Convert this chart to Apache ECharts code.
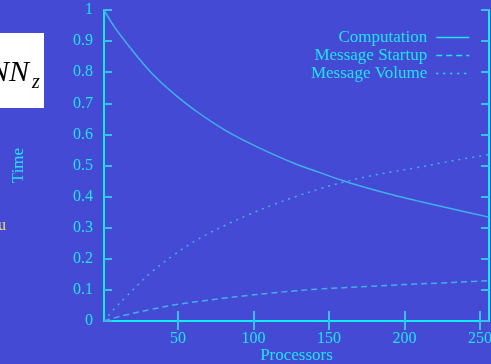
<!DOCTYPE html>
<html><head><meta charset="utf-8">
<script src="https://cdn.jsdelivr.net/npm/echarts@6/dist/echarts.min.js"></script>
<style>html,body{margin:0;padding:0;background:#454ad4;}#c{width:491px;height:364px;}</style>
</head><body><div id="c"></div>
<script>
const procs = [1, 8, 16, 32, 48, 64, 80, 96, 112, 128, 144, 160, 176, 192, 208, 224, 240, 256];
const computation = [1.0, 0.945, 0.893, 0.80, 0.728, 0.668, 0.617, 0.575, 0.538, 0.505, 0.477, 0.45, 0.427, 0.406, 0.387, 0.369, 0.351, 0.334];
const msgStartup = [0.0, 0.01, 0.02, 0.037, 0.052, 0.063, 0.073, 0.082, 0.09, 0.097, 0.103, 0.107, 0.111, 0.115, 0.119, 0.122, 0.126, 0.13];
const msgVolume = [0.0, 0.04, 0.08, 0.155, 0.215, 0.265, 0.305, 0.34, 0.372, 0.40, 0.425, 0.447, 0.465, 0.48, 0.493, 0.508, 0.522, 0.535];
const xTicks = [50, 100, 150, 200, 250];
const seriesNames = ['Computation', 'Message Startup', 'Message Volume'];

const cyan = '#20e4f2';
const axisCol = '#10ecff';
const curveCol = '#40b0e8';
const font = 'Liberation Serif';

const chart = echarts.init(document.getElementById('c'));
const pair = arr => procs.map((p, i) => [p, arr[i]]);
const xBase = {
  type: 'value', min: 1, max: 256,
  axisLine: { show: true, lineStyle: { color: axisCol, width: 2 } },
  splitLine: { show: false }
};
const yBase = {
  type: 'value', min: 0, max: 1, interval: 0.1,
  axisLine: { show: true, lineStyle: { color: axisCol, width: 2 } },
  axisTick: { inside: true, length: 8, lineStyle: { color: '#38c0ec', width: 2 } },
  splitLine: { show: false }
};
chart.setOption({
  animation: false,
  backgroundColor: '#454ad4',
  grid: { left: 104, right: 2, top: 10, bottom: 43, containLabel: false, outerBoundsMode: 'none' },
  xAxis: [
    Object.assign({}, xBase, {
      position: 'bottom',
      axisTick: { inside: true, length: 10, customValues: xTicks, lineStyle: { color: '#38c0ec', width: 2 } },
      axisLabel: { customValues: xTicks, color: cyan, fontFamily: font, fontSize: 16, margin: 10 },
      name: 'Processors', nameLocation: 'middle', nameGap: 26, nameMoveOverlap: false,
      nameTextStyle: { color: cyan, fontFamily: font, fontSize: 17 }
    }),
    Object.assign({}, xBase, {
      position: 'top',
      axisTick: { inside: true, length: 9, customValues: xTicks, lineStyle: { color: '#38c0ec', width: 2 } },
      axisLabel: { show: false }
    })
  ],
  yAxis: [
    Object.assign({}, yBase, {
      position: 'left',
      axisLabel: { color: cyan, fontFamily: font, fontSize: 16, margin: 11 },
      name: 'Time', nameLocation: 'middle', nameGap: 77, nameRotate: 90, nameMoveOverlap: false,
      nameTextStyle: { color: cyan, fontFamily: font, fontSize: 17 }
    }),
    Object.assign({}, yBase, { position: 'right', axisLabel: { show: false } })
  ],
  legend: {
    orient: 'vertical', right: 16, top: 24, align: 'right',
    itemWidth: 33, itemHeight: 14, itemGap: 1, selectedMode: false,
    data: seriesNames,
    textStyle: { color: cyan, fontFamily: font, fontSize: 17, padding: [0, 4, 0, 0] },
    itemStyle: { opacity: 0 },
    lineStyle: { color: cyan, width: 1.5 }
  },
  series: [
    { name: seriesNames[0], type: 'line', data: pair(computation), smooth: 0.4, symbol: 'none',
      lineStyle: { color: curveCol, width: 1.5, type: 'solid' } },
    { name: seriesNames[1], type: 'line', data: pair(msgStartup), smooth: 0.4, symbol: 'none',
      lineStyle: { color: curveCol, width: 1.5, type: [6, 4] } },
    { name: seriesNames[2], type: 'line', data: pair(msgVolume), smooth: 0.4, symbol: 'none',
      lineStyle: { color: curveCol, width: 1.5, type: [2, 5] } }
  ],
  graphic: [
    { type: 'rect', shape: { x: 0, y: 33, width: 44, height: 75 }, style: { fill: '#ffffff' } },
    { type: 'text', x: 29, y: 73, style: { text: 'NN', font: 'italic 30px "Liberation Serif"', fill: '#000', align: 'right', verticalAlign: 'middle' } },
    { type: 'text', x: 32, y: 83, style: { text: 'z', font: 'italic 20px "Liberation Serif"', fill: '#000', align: 'left', verticalAlign: 'middle' } },
    { type: 'text', x: -2, y: 226, style: { text: 'u', font: '16px "Liberation Serif"', fill: '#f0e070', align: 'left', verticalAlign: 'middle' } }
  ]
});
</script></body></html>
